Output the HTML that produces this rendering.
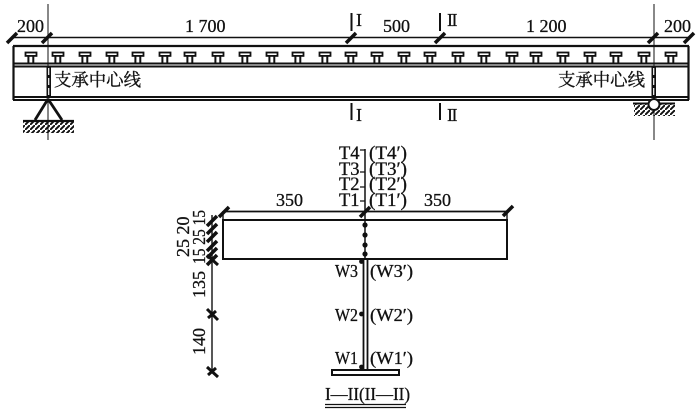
<!DOCTYPE html>
<html>
<head>
<meta charset="utf-8">
<style>
html,body{margin:0;padding:0;background:#fff;width:700px;height:420px;overflow:hidden}
svg{display:block}
text{font-family:"Liberation Serif","Noto Serif CJK SC",serif;fill:#111;stroke:#111;stroke-width:.3px}
.n{font-size:18px}
.s{font-size:18.500px}
.w{font-size:17.500px}
.c{font-size:17.400px;font-family:"Noto Serif CJK SC","Liberation Serif",serif;stroke-width:.35px}
</style>
</head>
<body>
<svg width="700" height="420" viewBox="0 0 700 420" xmlns="http://www.w3.org/2000/svg">
<defs>
<g id="t"><rect x="-5.500" y="52.500" width="11" height="3.400" fill="#fff" stroke="#111" stroke-width="1.800"/><path d="M-2.600 56V63M2.300 56V63" stroke="#111" stroke-width="2" fill="none"/></g>
<path id="k" d="M-5 5L5-5" stroke="#111" stroke-width="3.500" fill="none"/>
<pattern id="h" width="5" height="5" patternUnits="userSpaceOnUse"><path d="M-1 6L6-1" stroke="#111" stroke-width="1.900"/></pattern>
</defs>

<!-- top girder -->
<g stroke="#111" fill="none">
<path d="M13 37.500H689" stroke-width="1.500"/>
<path d="M13 46H689" stroke-width="2.200"/>
<path d="M13 63.500H689M13 66.500H689" stroke-width="2"/>
<path d="M13 97H689M13 100H689" stroke-width="2"/>
<path d="M13.500 46V100M688.500 46V100" stroke-width="2.200"/>
<path d="M48 4V140M654 4V140" stroke-width="1"/>
</g>
<g>
<use href="#t" x="31"/><use href="#t" x="58"/><use href="#t" x="85"/><use href="#t" x="112"/><use href="#t" x="138"/><use href="#t" x="165"/><use href="#t" x="190"/><use href="#t" x="218"/><use href="#t" x="245"/><use href="#t" x="272"/><use href="#t" x="298"/><use href="#t" x="325"/><use href="#t" x="351"/><use href="#t" x="377"/><use href="#t" x="404"/><use href="#t" x="430"/><use href="#t" x="458"/><use href="#t" x="484"/><use href="#t" x="512"/><use href="#t" x="536"/><use href="#t" x="563"/><use href="#t" x="590"/><use href="#t" x="616"/><use href="#t" x="644"/><use href="#t" x="671"/>
</g>
<!-- stiffeners -->
<rect x="46.500" y="66" width="4.500" height="32" fill="#111"/>
<path d="M48.700 68V96" stroke="#fff" stroke-width="1.200" stroke-dasharray="7 3"/>
<rect x="651.500" y="66" width="4.500" height="32" fill="#111"/>
<path d="M653.700 68V96" stroke="#fff" stroke-width="1.200" stroke-dasharray="7 3"/>
<!-- dim ticks -->
<use href="#k" x="12" y="38"/><use href="#k" x="47" y="38"/><use href="#k" x="351" y="38"/><use href="#k" x="440" y="38"/><use href="#k" x="653" y="38"/><use href="#k" x="689" y="38"/>
<!-- top dims -->
<text class="n" x="17" y="32">200</text>
<text class="n" x="185" y="32">1 700</text>
<text class="n" x="383" y="32">500</text>
<text class="n" x="526" y="32">1 200</text>
<text class="n" x="664" y="32">200</text>
<text class="c" x="54" y="86">支承中心线</text>
<text class="c" x="558" y="86">支承中心线</text>
<!-- section marks -->
<path d="M351.500 13V31M351.500 103V120M440 13V31M440 103V120" stroke="#111" stroke-width="2"/>
<text class="n" x="356" y="26">I</text>
<text class="n" x="447" y="26" letter-spacing="-1.500">II</text>
<text class="n" x="356" y="121">I</text>
<text class="n" x="447" y="121" letter-spacing="-1.500">II</text>
<!-- left support -->
<path d="M48 99L35 120M48 99L62 120" stroke="#111" stroke-width="2.800" fill="none"/>
<path d="M23 121H74" stroke="#111" stroke-width="2.200"/>
<rect x="23" y="122" width="51" height="11" fill="url(#h)"/>
<path d="M48 120V140" stroke="#111" stroke-width="1"/>
<!-- right support -->
<rect x="634" y="104" width="41" height="12" fill="url(#h)"/>
<path d="M633 103.500H675" stroke="#111" stroke-width="2"/>
<circle cx="654" cy="104.500" r="5.500" fill="#fff" stroke="#111" stroke-width="2"/>
<path d="M654 110V140" stroke="#111" stroke-width="1"/>

<!-- section -->
<g stroke="#111" fill="none">
<path d="M223 211.500H507" stroke-width="1.800"/>
<rect x="223" y="220" width="284" height="39" stroke-width="2"/>
<path d="M223 211V220M507 211V220" stroke-width="1.400"/>
<path d="M365 149V259" stroke-width="1.500"/>
<path d="M360 150H365M360 172H365M360 187H365M360 201H365" stroke-width="1.200"/>
<path d="M363.500 259V370M367.500 259V370" stroke-width="1.800"/>
<rect x="332" y="370" width="67" height="5" fill="#fff" stroke-width="2"/>
<path d="M212 215V372" stroke-width="1.400"/>
</g>
<use href="#k" x="224" y="212"/><use href="#k" x="365" y="212"/><use href="#k" x="508" y="211"/>
<g>
<use href="#k" x="212" y="221"/><use href="#k" x="212" y="229"/><use href="#k" x="212" y="237"/><use href="#k" x="212" y="246"/><use href="#k" x="212" y="253"/><use href="#k" x="212" y="260"/>
</g>
<path d="M207 255L218 265M207 309L218 320M207 367L218 377M208 318L216 311M208 375L216 368" stroke="#111" stroke-width="3" fill="none"/>
<g fill="#111">
<circle cx="365" cy="225" r="2.600"/><circle cx="365" cy="235" r="2.600"/><circle cx="365" cy="245" r="2.600"/><circle cx="365" cy="254" r="2.600"/>
<circle cx="361.500" cy="261.500" r="2.400"/><circle cx="361.500" cy="314" r="2.400"/><circle cx="361.500" cy="367" r="2.400"/>
</g>
<text class="n" x="276" y="206">350</text>
<text class="n" x="424" y="206">350</text>
<text class="s" x="339" y="159">T4</text>
<text class="s" x="339" y="175">T3</text>
<text class="s" x="339" y="190">T2</text>
<text class="s" x="339" y="206">T1</text>
<text class="s" x="369" y="159" textLength="38" lengthAdjust="spacingAndGlyphs">(T4′)</text>
<text class="s" x="369" y="175" textLength="38" lengthAdjust="spacingAndGlyphs">(T3′)</text>
<text class="s" x="369" y="190" textLength="38" lengthAdjust="spacingAndGlyphs">(T2′)</text>
<text class="s" x="369" y="206" textLength="38" lengthAdjust="spacingAndGlyphs">(T1′)</text>
<text class="w" x="335" y="277" textLength="23" lengthAdjust="spacingAndGlyphs">W3</text>
<text class="w" x="335" y="321" textLength="23" lengthAdjust="spacingAndGlyphs">W2</text>
<text class="w" x="335" y="364" textLength="23" lengthAdjust="spacingAndGlyphs">W1</text>
<text class="w" x="370" y="277" textLength="43" lengthAdjust="spacingAndGlyphs">(W3′)</text>
<text class="w" x="370" y="321" textLength="43" lengthAdjust="spacingAndGlyphs">(W2′)</text>
<text class="w" x="370" y="364" textLength="43" lengthAdjust="spacingAndGlyphs">(W1′)</text>
<text class="n" transform="translate(189 257) rotate(-90)">25 20</text>
<text class="n" transform="translate(205 264) rotate(-90)" textLength="54" lengthAdjust="spacingAndGlyphs">15 25 15</text>
<text class="n" transform="translate(205 298) rotate(-90)">135</text>
<text class="n" transform="translate(205 355) rotate(-90)">140</text>
<text class="w" x="325" y="400" textLength="85" lengthAdjust="spacingAndGlyphs">I—II(II—II)</text>
<path d="M325 404.500H406M325 407.500H406" stroke="#111" stroke-width="1.300"/>
</svg>
</body>
</html>
